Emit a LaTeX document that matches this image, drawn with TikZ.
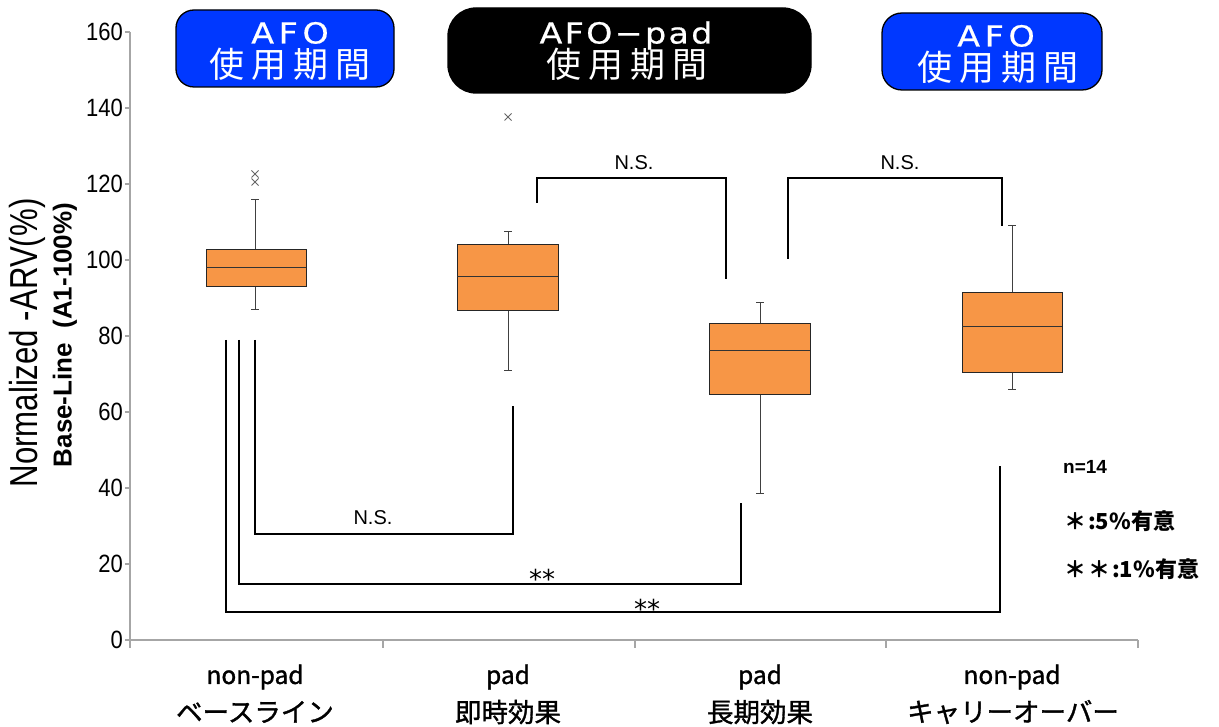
\documentclass[tikz,border=0pt]{standalone}
\usepackage{fontspec}
\setmainfont{Liberation Sans}
\newfontfamily\jpfont{Noto Sans CJK JP}
\newfontfamily\catfont{Noto Sans CJK JP}[FakeBold=1.2]
\newfontfamily\kanjiboxfont{Noto Sans CJK JP}[LetterSpace=20]
\newfontfamily\latinboxfont{DejaVu Sans}[FakeStretch=1.15, FakeBold=0.6, LetterSpace=16]
\newfontfamily\latinboxfontB{DejaVu Sans}[FakeStretch=1.15, FakeBold=0.6, LetterSpace=8]
\newfontfamily\narrowfont{Liberation Sans}[FakeStretch=0.8]
\newfontfamily\tickfont{Liberation Sans}[FakeStretch=0.88]
\newfontfamily\symfont{DejaVu Sans}
\definecolor{boxorange}{RGB}{247,150,70}
\definecolor{afoblue}{RGB}{0,56,255}

% one box-and-whisker: centre x, left, right, whisker top, Q3, median, Q1, whisker bottom
\newcommand{\bxp}[8]{%
  \draw[whisk] (#1,#4) -- (#1,#5) (#1,#7) -- (#1,#8);
  \draw[whisk] (#1-4,#4) -- (#1+4,#4) (#1-4,#8) -- (#1+4,#8);
  \draw[bxfill] (#2,#5) rectangle (#3,#7);
  \draw[medline] (#2,#6) -- (#3,#6);
}
% outlier cross
\newcommand{\outl}[2]{%
  \draw[outlier] (#1-3.5,#2-3.5) -- (#1+3.5,#2+3.5) (#1-3.5,#2+3.5) -- (#1+3.5,#2-3.5);
}

\begin{document}
\begin{tikzpicture}[x=1pt,y=-1pt,
  axisln/.style={draw=black!35, line width=1.2pt},
  whisk/.style={draw=black!75, line width=1pt},
  bxfill/.style={fill=boxorange, draw=black!85, line width=1pt},
  medline/.style={draw=black!80, line width=1pt},
  outlier/.style={draw=black!60, line width=0.8pt},
  brk/.style={draw=black, line width=1.9pt},
  tickl/.style={font=\tickfont\fontsize{25}{27}\selectfont, inner sep=0pt},
  nslbl/.style={font=\fontsize{20}{22}\selectfont, inner sep=0pt},
  starlbl/.style={font=\symfont\fontsize{26}{28}\selectfont, inner sep=0pt, anchor=base},
  catlat/.style={font=\catfont\fontsize{24.5}{26}\selectfont, inner sep=0pt},
  catjp/.style={font=\catfont\fontsize{26.5}{28}\selectfont, inner sep=0pt},
  period/.style={draw=black, line width=1.3pt, rounded corners=#1},
  boxlat/.style={text=white, inner sep=0pt, text height=21pt, text depth=0pt,
                 font=\latinboxfont\fontsize{29}{31}\selectfont},
  boxkanji/.style={text=white, inner sep=0pt, text height=28pt, text depth=2pt,
                   font=\kanjiboxfont\fontsize{35}{37}\selectfont},
  legend/.style={anchor=west, inner sep=0pt}
]
\useasboundingbox (0,0) rectangle (1219,727);
\fill[white] (0,0) rectangle (1219,727);

% axes
\draw[axisln] (130,32) -- (130,648);
\draw[axisln] (130,640) -- (1138,640);
\foreach \xt in {383,635,886,1138} \draw[axisln] (\xt,640) -- (\xt,648);
\foreach \v in {0,20,...,160} {
  \draw[axisln] (125,{640-3.8*\v}) -- (130,{640-3.8*\v});
  \node[tickl, anchor=east] (tick\v) at (123,{640-3.8*\v}) {\v};
}

% axis titles
\node[rotate=90, inner sep=0pt, font=\narrowfont\fontsize{39}{40}\selectfont] (ytitle) at (27,343) {Normalized -ARV(\%)};
\node[rotate=90, inner sep=0pt, font=\bfseries\fontsize{26}{28}\selectfont] (ysub) at (65,335) {Base-Line\ \ (A1-100\%)};

% category labels
\node[catlat] (c1a) at (255,677) {non-pad};
\node[catjp]  (c1b) at (255,712) {ベースライン};
\node[catlat] (c2a) at (508,677) {pad};
\node[catjp]  (c2b) at (508,712) {即時効果};
\node[catlat] (c3a) at (760,677) {pad};
\node[catjp]  (c3b) at (760,712) {長期効果};
\node[catlat] (c4a) at (1012,677) {non-pad};
\node[catjp]  (c4b) at (1013,712) {キャリーオーバー};

% period banners
\draw[period=18, fill=afoblue] (176,10) rectangle (394,87);
\node[boxlat]   (pA1) at (290,33) {AFO};
\node[boxkanji] (pA2) at (290,65) {使用期間};
\draw[period=28, fill=black] (448,8) rectangle (811,93);
\node[boxlat, font=\latinboxfontB\fontsize{29}{31}\selectfont] (pB1) at (626,33) {AFO−pad};
\node[boxkanji] (pB2) at (627,65) {使用期間};
\draw[period=20, fill=afoblue] (882,13) rectangle (1102,90);
\node[boxlat]   (pC1) at (996,36) {AFO};
\node[boxkanji] (pC2) at (998,68) {使用期間};

% box plots
\bxp{255}{206}{306}{200}{250}{268}{287}{310}
\outl{255}{174}
\outl{255}{182}
\bxp{508}{457}{558}{232}{245}{277}{311}{371}
\outl{508}{117}
\bxp{760}{709}{810}{303}{324}{351}{395}{493}
\bxp{1012}{962}{1062}{226}{293}{327}{373}{390}

% comparison brackets
\draw[brk] (537,203) -- (537,178) -- (726,178) -- (726,279);
\node[nslbl] (ns1) at (634,163) {N.S.};
\draw[brk] (788,259) -- (788,178) -- (1002,178) -- (1002,226);
\node[nslbl] (ns2) at (900,163) {N.S.};
\draw[brk] (255,340) -- (255,534) -- (513,534) -- (513,406);
\node[nslbl] (ns3) at (373,518) {N.S.};
\draw[brk] (239,340) -- (239,584) -- (741,584) -- (741,503);
\node[starlbl] (st1) at (542,588) {**};
\draw[brk] (226,340) -- (226,612) -- (1000,612) -- (1000,466);
\node[starlbl] (st2) at (647,618) {**};

% legend
\node[legend, font=\bfseries\fontsize{19}{21}\selectfont] (lg1) at (1063,467) {n=14};
\node[legend, font=\jpfont\bfseries\fontsize{22}{24}\selectfont] (lg2) at (1064,521) {＊\hspace{2pt}:5\%有意};
\node[legend, font=\jpfont\bfseries\fontsize{22}{24}\selectfont] (lg3) at (1064,569) {＊\hspace{2pt}＊\hspace{2pt}:1\%有意};
\end{tikzpicture}
\end{document}
